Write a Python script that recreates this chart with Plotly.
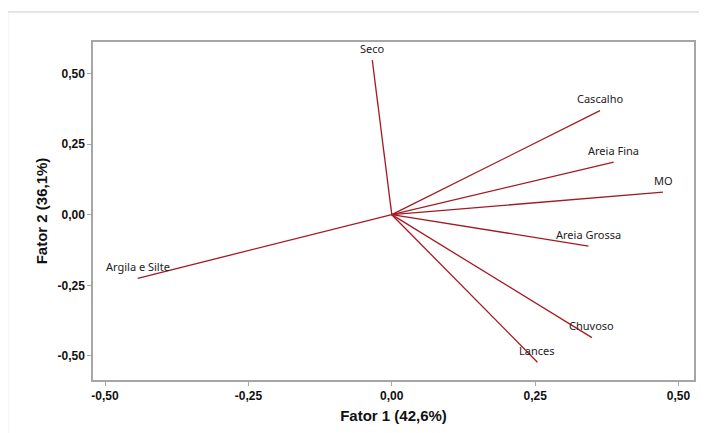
import plotly.graph_objects as go

variables = ["Seco", "Cascalho", "Areia Fina", "MO", "Areia Grossa", "Chuvoso", "Lances", "Argila e Silte"]
fator1 = [-0.034, 0.363, 0.387, 0.473, 0.343, 0.349, 0.254, -0.443]
fator2 = [0.547, 0.368, 0.186, 0.080, -0.111, -0.435, -0.522, -0.225]

tick_vals = [-0.50, -0.25, 0.00, 0.25, 0.50]
tick_text = ["-0,50", "-0,25", "0,00", "0,25", "0,50"]

line_color = "#a31a22"

fig = go.Figure()
for name, fx, fy in zip(variables, fator1, fator2):
    fig.add_trace(go.Scatter(x=[0, fx], y=[0, fy], mode="lines",
                             line=dict(color=line_color, width=1.3),
                             name=name, showlegend=False, hoverinfo="skip"))

annotations = []
for name, fx, fy in zip(variables, fator1, fator2):
    annotations.append(dict(x=fx, y=fy, xref="x", yref="y", text=name, showarrow=False,
                            yshift=12, xanchor="center", yanchor="middle",
                            font=dict(family="Noto Sans", size=11, color="#222222")))

shapes = [
    dict(type="line", xref="paper", yref="paper", x0=-0.142, x1=1.1, y0=1.089, y1=1.089,
         line=dict(color="#cccccc", width=1)),
    dict(type="line", xref="paper", yref="paper", x0=-0.142, x1=-0.142, y0=-0.3, y1=1.089,
         line=dict(color="#cccccc", width=1)),
]

axis_common = dict(showgrid=False, zeroline=False, showline=True, mirror=True,
                   linecolor="#a6a6a6", linewidth=1.5, ticks="outside", ticklen=4,
                   tickcolor="#a6a6a6", tickvals=tick_vals, ticktext=tick_text,
                   tickfont=dict(family="Liberation Sans", size=12, color="#111111", weight="bold"))

fig.update_layout(
    width=699, height=425,
    margin=dict(l=85, r=11, t=34, b=45),
    paper_bgcolor="white", plot_bgcolor="white",
    xaxis=dict(range=[-0.521, 0.527],
               title=dict(text="Fator 1 (42,6%)", standoff=8,
                          font=dict(family="Liberation Sans", size=15, color="#111111", weight="bold")),
               **axis_common),
    yaxis=dict(range=[-0.585, 0.611],
               title=dict(text="Fator 2 (36,1%)", standoff=6,
                          font=dict(family="Liberation Sans", size=15, color="#111111", weight="bold")),
               **axis_common),
    annotations=annotations,
    shapes=shapes,
)

fig.write_html("out.html")
